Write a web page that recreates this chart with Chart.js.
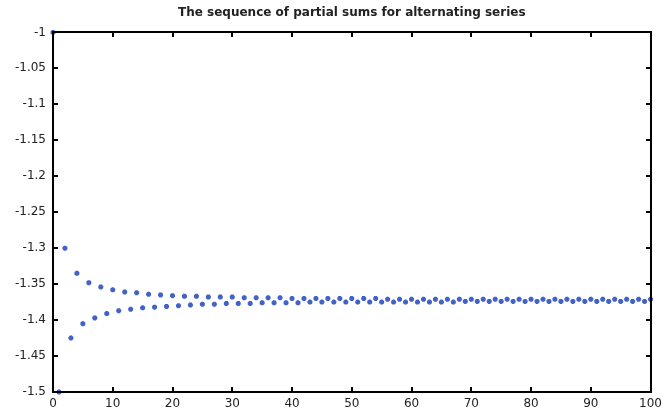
<!DOCTYPE html>
<html>
<head>
<meta charset="utf-8">
<script src="https://cdn.jsdelivr.net/npm/chart.js@4"></script>
<style>
  body { margin: 0; background: #fff; }
  canvas { display: block; }
</style>
</head>
<body>
<canvas id="chart" width="667" height="413"></canvas>
<script>
const TITLE = 'The sequence of partial sums for alternating series';

// partial sums, index n = 0..100
const sums = [
    -1.000, -1.500, -1.300, -1.425, -1.335, -1.405, -1.348, -1.397, -1.354, -1.391,
    -1.358, -1.387, -1.361, -1.385, -1.362, -1.383, -1.364, -1.382, -1.365, -1.381,
    -1.366, -1.380, -1.367, -1.379, -1.367, -1.378, -1.368, -1.378, -1.368, -1.377,
    -1.368, -1.377, -1.369, -1.377, -1.369, -1.376, -1.369, -1.376, -1.369, -1.376,
    -1.370, -1.376, -1.370, -1.375, -1.370, -1.375, -1.370, -1.375, -1.370, -1.375,
    -1.370, -1.375, -1.370, -1.375, -1.370, -1.375, -1.371, -1.375, -1.371, -1.375,
    -1.371, -1.375, -1.371, -1.375, -1.371, -1.375, -1.371, -1.375, -1.371, -1.374,
    -1.371, -1.374, -1.371, -1.374, -1.371, -1.374, -1.371, -1.374, -1.371, -1.374,
    -1.371, -1.374, -1.371, -1.374, -1.371, -1.374, -1.371, -1.374, -1.371, -1.374,
    -1.371, -1.374, -1.371, -1.374, -1.371, -1.374, -1.371, -1.374, -1.371, -1.374,
    -1.371
];

const xTicks = [0, 10, 20, 30, 40, 50, 60, 70, 80, 90, 100];
const yTicks = [-1.5, -1.45, -1.4, -1.35, -1.3, -1.25, -1.2, -1.15, -1.1, -1.05, -1];

const FONT = 'DejaVu Sans';

// matlab style box with inward ticks on all four sides
const boxTicks = {
    id: 'boxTicks',
    afterDraw(chart) {
        const ctx = chart.ctx;
        const a = chart.chartArea;
        const sx = chart.scales.x, sy = chart.scales.y;
        const len = 5;
        const l = Math.round(a.left), r = Math.round(a.right);
        const t = Math.round(a.top), b = Math.round(a.bottom);
        ctx.save();
        ctx.strokeStyle = '#000';
        ctx.lineWidth = 2;
        ctx.strokeRect(l, t, r - l, b - t);
        ctx.beginPath();
        for (const v of xTicks) {
            const px = Math.round(sx.getPixelForValue(v));
            ctx.moveTo(px, b); ctx.lineTo(px, b - len);
            ctx.moveTo(px, t); ctx.lineTo(px, t + len);
        }
        for (const v of yTicks) {
            const py = Math.round(sy.getPixelForValue(v));
            ctx.moveTo(l, py); ctx.lineTo(l + len, py);
            ctx.moveTo(r, py); ctx.lineTo(r - len, py);
        }
        ctx.stroke();
        ctx.restore();
    }
};

new Chart(document.getElementById('chart'), {
    type: 'scatter',
    data: {
        datasets: [{
            data: sums.map((y, n) => ({ x: n, y })),
            pointStyle: 'star',
            radius: 2.5,
            borderWidth: 2,
            borderColor: '#4262c8',
            backgroundColor: '#4262c8',
            clip: false
        }]
    },
    options: {
        responsive: false,
        animation: false,
        layout: { padding: { top: 0, right: 12, bottom: 0, left: 0 } },
        plugins: {
            legend: { display: false },
            tooltip: { enabled: false },
            title: {
                display: true,
                text: TITLE,
                fullSize: false,
                color: '#222',
                font: { family: FONT, size: 12, weight: 'bold' },
                padding: { top: 6, bottom: 12 }
            }
        },
        scales: {
            x: {
                type: 'linear',
                min: 0,
                max: 100,
                afterBuildTicks: s => { s.ticks = xTicks.map(v => ({ value: v })); },
                afterFit: s => { s.height = 21; },
                grid: { display: false, drawTicks: false },
                border: { display: false },
                ticks: {
                    autoSkip: false,
                    padding: 5,
                    color: '#222',
                    font: { family: FONT, size: 12 }
                }
            },
            y: {
                min: -1.5,
                max: -1,
                afterBuildTicks: s => { s.ticks = yTicks.map(v => ({ value: v })); },
                afterFit: s => { s.width = 53; },
                grid: { display: false, drawTicks: false },
                border: { display: false },
                ticks: {
                    autoSkip: false,
                    padding: 7,
                    color: '#222',
                    font: { family: FONT, size: 12 },
                    callback: v => String(Number(v.toFixed(2)))
                }
            }
        }
    },
    plugins: [boxTicks]
});
</script>
</body>
</html>
